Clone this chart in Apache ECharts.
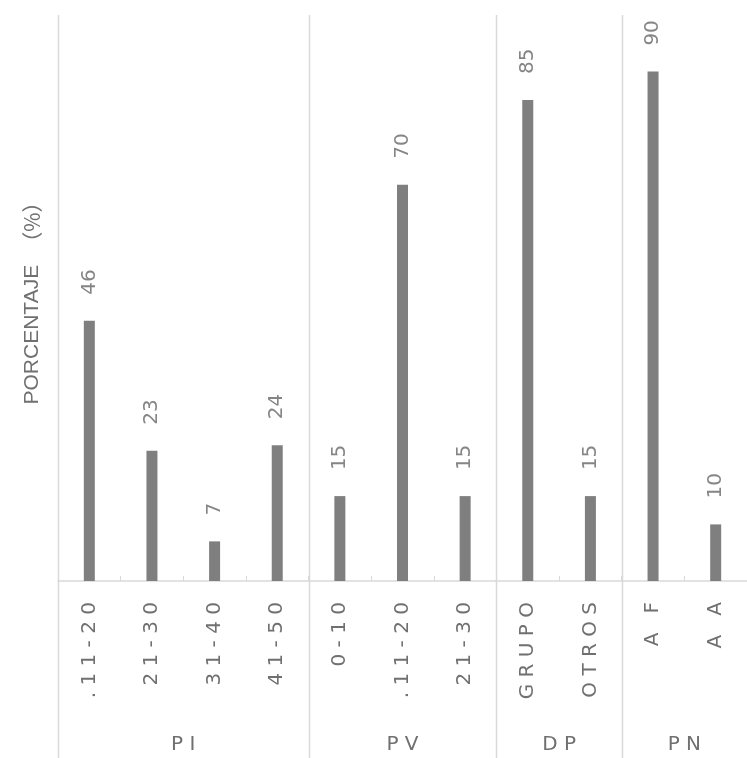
<!DOCTYPE html>
<html>
<head>
<meta charset="utf-8">
<script src="https://cdn.jsdelivr.net/npm/echarts@6/dist/echarts.min.js"></script>
<style>
  html, body { margin: 0; padding: 0; background: #ffffff; }
  #chart { width: 747px; height: 758px; }
</style>
</head>
<body>
<div id="chart"></div>
<script>
// Category labels along the x axis, in drawing order
const categories = ['.11-20', '21-30', '31-40', '41-50', '0-10', '.11-20', '21-30', 'GRUPO', 'OTROS', 'A F', 'A A'];
// Percentage for each category
const values = [46, 23, 7, 24, 15, 70, 15, 85, 15, 90, 10];
// Group names and how many categories each group spans
const groupNames = ['PI', 'PV', 'DP', 'PN'];
const groupSizes = [4, 3, 2, 2];

const lineColor = '#d9d9d9';
const textColor = '#707070';
const barColor = '#7f7f7f';

const chart = echarts.init(document.getElementById('chart'), null, { renderer: 'canvas' });

// x positions are category indices; labels are keyed by index because names repeat
const catIdx = categories.map((_, i) => i);

chart.setOption({
  animation: false,
  grid: { left: 58, right: -10, top: 15, bottom: 177, containLabel: false },
  xAxis: {
    type: 'category',
    data: catIdx,
    axisLine: { show: true, lineStyle: { color: lineColor, width: 1.5 } },
    axisTick: { show: true, inside: true, length: 5, lineStyle: { color: lineColor } },
    axisLabel: {
      rotate: 90,
      margin: 21,
      fontSize: 20,
      fontFamily: 'DejaVu Sans',
      color: textColor,
      formatter: (v) => categories[+v].split('').join(' ')
    },
    splitLine: { show: false }
  },
  yAxis: {
    type: 'value',
    min: 0,
    max: 100,
    axisLine: { show: false },
    axisTick: { show: false },
    axisLabel: { show: false },
    splitLine: { show: false },
    name: '{a|PORCENTAJE}{b|（%）}',
    nameLocation: 'middle',
    nameGap: 15,
    nameTextStyle: {
      color: textColor,
      rich: {
        a: { fontSize: 21, fontFamily: 'Liberation Sans', color: textColor },
        b: { fontSize: 21, fontFamily: 'Noto Sans CJK SC', color: textColor, padding: [0, 0, 0, 12] }
      }
    }
  },
  series: [{
    type: 'bar',
    data: values,
    barWidth: 11,
    itemStyle: { color: barColor },
    label: {
      show: true,
      position: 'top',
      rotate: 90,
      align: 'left',
      verticalAlign: 'middle',
      distance: 26,
      fontSize: 20,
      fontFamily: 'DejaVu Sans',
      color: '#858585'
    }
  }]
});

// Group separators and group names, placed from the category axis scale
function drawGroups() {
  const c0 = chart.convertToPixel({ xAxisIndex: 0 }, 0);
  const c1 = chart.convertToPixel({ xAxisIndex: 0 }, 1);
  const band = c1 - c0;
  const top = chart.convertToPixel({ yAxisIndex: 0 }, 100);
  const h = chart.getHeight();
  const elements = [];
  let start = 0;
  groupNames.forEach((name, g) => {
    const left = chart.convertToPixel({ xAxisIndex: 0 }, start) - band / 2;
    const right = left + band * groupSizes[g];
    elements.push({
      type: 'line',
      shape: { x1: Math.round(left) + 0.5, y1: top, x2: Math.round(left) + 0.5, y2: h },
      style: { stroke: lineColor, lineWidth: 1.5 },
      silent: true
    });
    elements.push({
      type: 'text',
      x: (left + right) / 2,
      y: h - 13,
      style: {
        text: name.split('').join(' '),
        fill: textColor,
        fontSize: 20,
        fontFamily: 'DejaVu Sans',
        align: 'center',
        verticalAlign: 'middle'
      },
      silent: true
    });
    start += groupSizes[g];
  });
  chart.setOption({ graphic: { elements } });
}
drawGroups();
</script>
</body>
</html>
